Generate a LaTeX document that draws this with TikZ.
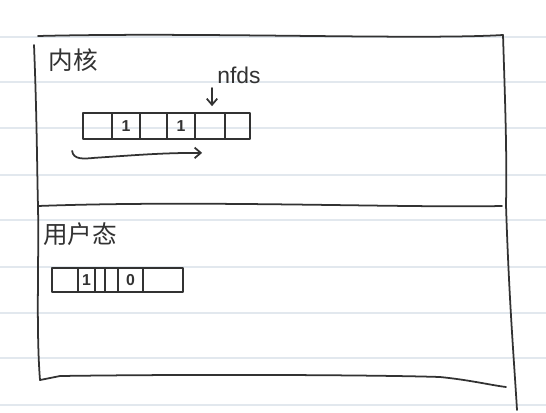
\documentclass[tikz,border=0pt]{standalone}
\usepackage{fontspec}
\setmainfont{Liberation Sans}
\newfontfamily\cjk{Noto Sans CJK SC}
\usetikzlibrary{calc,arrows.meta}
\definecolor{inkc}{RGB}{50,50,50}
\definecolor{rulec}{RGB}{226,232,238}
\tikzset{pline/.style={draw=rulec,line width=0.8pt}}
\tikzset{pen/.style={draw=inkc,line width=1pt,line cap=round,line join=round,>={Straight Barb[length=3.5pt,width=6pt]}}}
\tikzset{zone/.style={text=inkc,inner sep=0pt,font=\cjk\fontsize{14}{14}\selectfont}}
\tikzset{tag/.style={text=inkc,inner sep=0pt,font=\fontsize{13}{14}\selectfont}}
\tikzset{cell/.style={pen,inner sep=0pt,minimum height=0.52cm,text=inkc,font=\bfseries\fontsize{9}{9}\selectfont}}

\begin{document}
\begin{tikzpicture}[x=0.02cm,y=-0.02cm]
  \fill[white] (0,0) rectangle (546,412);
  \useasboundingbox (0,0) rectangle (546,412);
  % ruled paper
  \foreach \y in {37,82,128,175,220,267,313,358,405}{
    \draw[pline] (0,\y) -- (546,\y);
  }

  % frame
  \coordinate (tl) at (38,36);
  \coordinate (tr) at (503,35);
  \coordinate (ml) at (38,206);
  \coordinate (mr) at (506,205);
  \coordinate (bl) at (40,380);
  \coordinate (br) at (506,387);
  \draw[pen] (tl) .. controls (200,32) and (420,40) .. (tr);
  \draw[pen] (34,45) .. controls (37,120) and (37,170) .. (ml) .. controls (39,260) and (36,330) .. (bl);
  \draw[pen] (tr) .. controls (505,100) and (507,150) .. (mr) .. controls (509,300) and (514,360) .. (517,410);
  \draw[pen] (ml) .. controls (200,200) and (400,208) .. (502,206);
  \draw[pen] (bl) -- (60,376) .. controls (200,374) and (380,375) .. (440,377) .. controls (470,380) and (490,385) .. (br);

  \node[zone] (kernel) at (73,60) {内核};
  \node[zone] (user) at (80,234) {用户态};

  % kernel bitmap
  \foreach \n/\l/\r/\b in {0/83/112/,1/112/140/1,2/140/167/,3/167/195/1,4/195/225/,5/225/250/}{
    \pgfmathsetmacro\cw{(\r-\l)*0.02}
    \node[cell,minimum width=\cw cm] (k\n) at ({(\l+\r)/2},126) {\b};
  }
  \node[tag,anchor=south west] (nfds) at (217,84) {nfds};
  \draw[pen,->] ($(nfds.south west)+(-5,4)$) -- ($(k4.north)+(2,-6)$);

  \coordinate (sweepstart) at ($(k0.south west)+(-10,11)$);
  \coordinate (sweepend) at ($(k4.south west)+(8,13)$);
  \draw[pen,->] (sweepstart) .. controls +(1,9) and +(-10,1) .. ($(sweepstart)+(22,7)$)
    .. controls +(45,-3) and +(-40,0) .. (sweepend);

  % user bitmap
  \foreach \n/\l/\r/\b in {0/52/78/,1/78/95/1,2/95/105/,3/105/118/,4/118/143/0,5/143/183/}{
    \pgfmathsetmacro\cw{(\r-\l)*0.02}
    \node[cell,minimum width=\cw cm,minimum height=0.48cm] (u\n) at ({(\l+\r)/2},280) {\b};
  }
\end{tikzpicture}
\end{document}
